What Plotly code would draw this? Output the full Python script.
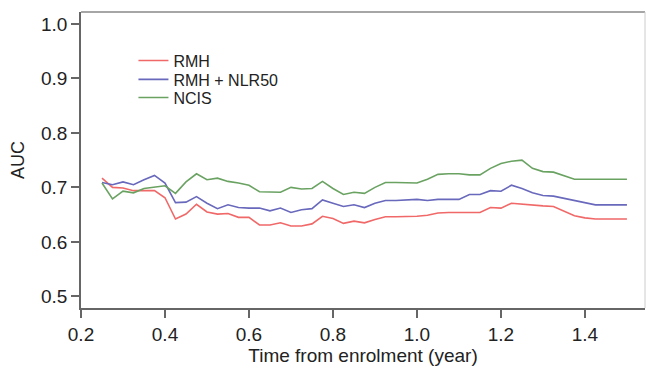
import plotly.graph_objects as go

time_years = [0.25, 0.275, 0.3, 0.325, 0.35, 0.375, 0.4, 0.425, 0.45, 0.475,
              0.5, 0.525, 0.55, 0.575, 0.6, 0.625, 0.65, 0.675, 0.7, 0.725,
              0.75, 0.775, 0.8, 0.825, 0.85, 0.875, 0.9, 0.925, 0.95, 0.975,
              1.0, 1.025, 1.05, 1.075, 1.1, 1.125, 1.15, 1.175, 1.2, 1.225,
              1.25, 1.275, 1.3, 1.325, 1.35, 1.375, 1.4, 1.425, 1.45, 1.475, 1.5]

auc_rmh = [0.717, 0.700, 0.699, 0.694, 0.694, 0.694, 0.681, 0.642, 0.651, 0.669,
           0.655, 0.651, 0.652, 0.645, 0.645, 0.631, 0.631, 0.635, 0.629, 0.629,
           0.633, 0.647, 0.643, 0.634, 0.638, 0.635, 0.641, 0.646, 0.646, 0.646,
           0.647, 0.649, 0.653, 0.654, 0.654, 0.654, 0.654, 0.663, 0.662, 0.671,
           0.669, 0.668, 0.666, 0.665, 0.656, 0.648, 0.644, 0.642, 0.642, 0.642, 0.642]

auc_rmh_nlr50 = [0.709, 0.705, 0.710, 0.705, 0.714, 0.722, 0.708, 0.672, 0.673, 0.683,
                 0.671, 0.661, 0.668, 0.663, 0.662, 0.662, 0.657, 0.662, 0.654, 0.659,
                 0.661, 0.677, 0.671, 0.665, 0.668, 0.663, 0.671, 0.676, 0.676, 0.677,
                 0.678, 0.676, 0.678, 0.678, 0.678, 0.687, 0.687, 0.694, 0.693, 0.704,
                 0.698, 0.690, 0.685, 0.684, 0.680, 0.675, 0.671, 0.668, 0.668, 0.668, 0.668]

auc_ncis = [0.708, 0.679, 0.693, 0.690, 0.698, 0.701, 0.703, 0.689, 0.710, 0.725,
            0.714, 0.717, 0.711, 0.708, 0.704, 0.692, 0.692, 0.691, 0.700, 0.697,
            0.698, 0.711, 0.698, 0.687, 0.691, 0.689, 0.700, 0.709, 0.709, 0.709,
            0.708, 0.715, 0.724, 0.725, 0.725, 0.723, 0.723, 0.735, 0.744, 0.748,
            0.750, 0.735, 0.729, 0.728, 0.721, 0.715, 0.715, 0.715, 0.715, 0.715, 0.715]

series_names = ["RMH", "RMH + NLR50", "NCIS"]
series_colors = ["#f06868", "#6868bc", "#6aa262"]
legend_ids = ["legend", "legend2", "legend3"]

x_ticks = [0.2, 0.4, 0.6, 0.8, 1.0, 1.2, 1.4]
y_ticks = [0.5, 0.6, 0.7, 0.8, 0.9, 1.0]

fig = go.Figure()
for name, vals, col, lg in zip(series_names, [auc_rmh, auc_rmh_nlr50, auc_ncis],
                               series_colors, legend_ids):
    fig.add_trace(go.Scatter(x=time_years, y=vals, mode="lines", name=name,
                             legend=lg, line=dict(color=col, width=1.6)))

font_family = "Arial, Liberation Sans, Helvetica, sans-serif"
legend_common = dict(x=0.093, xanchor="left", yanchor="middle",
                     bgcolor="rgba(0,0,0,0)", font=dict(size=16, color="#222"),
                     itemwidth=30)
fig.update_layout(
    width=646, height=370,
    margin=dict(l=81, r=1, t=12, b=62),
    paper_bgcolor="white", plot_bgcolor="white",
    font=dict(family=font_family, size=19, color="#222"),
    showlegend=True,
    legend=dict(y=0.836, **legend_common),
    legend2=dict(y=0.772, **legend_common),
    legend3=dict(y=0.711, **legend_common),
    xaxis=dict(range=[0.2, 1.543], tickvals=x_ticks,
               ticktext=[f"{v:.1f}" for v in x_ticks],
               tickfont=dict(size=19),
               showgrid=False, zeroline=False, showline=True,
               linecolor="#666", linewidth=1.5, ticks="outside", ticklen=8,
               tickcolor="#666", tickwidth=1.5,
               title=dict(text="Time from enrolment (year)", standoff=4,
                          font=dict(size=19))),
    yaxis=dict(range=[0.4786, 1.022], tickvals=y_ticks,
               ticktext=[f"{v:.1f}" for v in y_ticks],
               tickfont=dict(size=19),
               showgrid=False, zeroline=False, showline=True,
               linecolor="#666", linewidth=1.5, ticks="outside", ticklen=8,
               tickcolor="#666", tickwidth=1.5,
               title=dict(text="AUC", standoff=12, font=dict(size=18))),
    shapes=[
        dict(type="line", xref="paper", yref="paper", x0=0, x1=1, y0=1, y1=1,
             line=dict(color="#888", width=1.5)),
        dict(type="line", xref="paper", yref="paper", x0=1, x1=1, y0=0, y1=1,
             line=dict(color="#ccc", width=1)),
    ],
)

fig.write_html("out.html")
